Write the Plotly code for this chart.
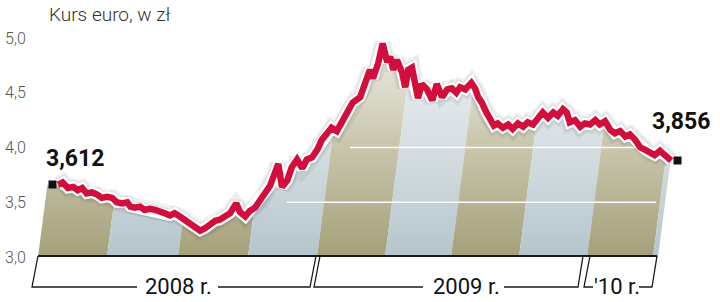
import plotly.graph_objects as go

# ---- data ----
dates = [
    "2008-01-28","2008-02-03","2008-02-10","2008-02-17","2008-02-23","2008-02-29","2008-03-06","2008-03-13","2008-03-20","2008-03-26",
    "2008-04-02","2008-04-09","2008-04-15","2008-04-22","2008-04-29","2008-05-03","2008-05-09","2008-05-16","2008-05-22","2008-05-29",
    "2008-06-05","2008-06-11","2008-06-18","2008-06-25","2008-07-01","2008-07-08","2008-07-15","2008-07-21","2008-07-28","2008-08-04",
    "2008-08-10","2008-08-17","2008-08-24","2008-08-30","2008-09-06","2008-09-13","2008-09-21","2008-09-26","2008-10-03","2008-10-09",
    "2008-10-16","2008-10-23","2008-10-29","2008-11-05","2008-11-12","2008-11-16","2008-11-21","2008-11-28","2008-12-04","2008-12-11",
    "2008-12-18","2008-12-24","2008-12-31",
    "2009-01-07","2009-01-13","2009-01-20","2009-01-26","2009-02-02","2009-02-09","2009-02-15","2009-02-23","2009-03-05","2009-03-11",
    "2009-03-18","2009-03-22","2009-03-29","2009-04-04","2009-04-10","2009-04-14","2009-04-18","2009-04-23","2009-04-30","2009-05-04",
    "2009-05-08","2009-05-13","2009-05-17","2009-05-21","2009-05-26","2009-06-02","2009-06-09","2009-06-15","2009-06-22","2009-06-29",
    "2009-07-05","2009-07-11","2009-07-16","2009-07-23","2009-07-31","2009-08-05","2009-08-09","2009-08-14","2009-08-20","2009-08-25",
    "2009-08-30","2009-09-04","2009-09-11","2009-09-18","2009-09-24","2009-10-01","2009-10-08","2009-10-14","2009-10-21","2009-10-28",
    "2009-11-03","2009-11-10","2009-11-17","2009-11-23","2009-11-30","2009-12-05","2009-12-09","2009-12-16","2009-12-23","2009-12-29",
    "2010-01-05","2010-01-12","2010-01-18","2010-01-25","2010-02-01","2010-02-07","2010-02-14","2010-02-21","2010-02-27","2010-03-06",
    "2010-03-13","2010-03-19","2010-03-26","2010-04-01","2010-04-08","2010-04-15","2010-04-23",
]
values = [
    3.66,3.68,3.63,3.64,3.61,3.63,3.58,3.59,3.57,3.54,
    3.55,3.54,3.50,3.49,3.50,3.46,3.45,3.46,3.43,3.44,
    3.43,3.41,3.40,3.38,3.40,3.37,3.34,3.30,3.27,3.24,
    3.26,3.30,3.33,3.34,3.37,3.40,3.49,3.41,3.37,3.42,
    3.45,3.51,3.58,3.65,3.76,3.85,3.64,3.70,3.82,3.89,
    3.81,3.89,3.91,
    3.98,4.07,4.14,4.18,4.15,4.23,4.32,4.41,4.46,4.56,
    4.71,4.63,4.77,4.95,4.78,4.83,4.71,4.80,4.68,4.55,
    4.71,4.73,4.54,4.45,4.58,4.53,4.43,4.58,4.46,4.53,
    4.54,4.50,4.55,4.53,4.59,4.54,4.46,4.41,4.32,4.25,
    4.20,4.22,4.18,4.21,4.17,4.22,4.19,4.23,4.21,4.27,
    4.32,4.27,4.32,4.29,4.35,4.32,4.23,4.25,4.19,4.22,
    4.21,4.25,4.21,4.24,4.16,4.13,4.15,4.10,4.12,4.07,
    4.00,3.98,3.95,3.93,3.97,3.93,3.88,
]
assert len(dates) == len(values)

title_text = "Kurs euro, w zł"
y_ticks = [3.0, 3.5, 4.0, 4.5, 5.0]
y_ticktext = ["3,0", "3,5", "4,0", "4,5", "5,0"]
first_label = "3,612"
last_label = "3,856"
year_labels = ["2008 r.", "2009 r.", "'10 r."]

# ---- styling / layout constants ----
W, H = 720, 302
X_RANGE = ["2007-11-11 14:00", "2010-06-27"]
Y_RANGE = [2.589, 5.347]
PX_PER_UNIT = H / (Y_RANGE[1] - Y_RANGE[0])
RED = "#d20f3c"
OLIVE_SCALE = [[0, "#a5a07a"], [0.5, "#c8c5ac"], [1, "#efeee7"]]
BLUE_SCALE = [[0, "#b5c5cd"], [0.5, "#d5dee2"], [1, "#f0f3f4"]]
stripe_edges = [38, 107, 178, 248, 317, 385, 451, 519, 587, 653, 658]
SLANT = 0.13
TOP_V = 5.15

def py(p):  # pixel y -> paper
    return 1 - p / H

fig = go.Figure()

# slanted stripes (decoration) on the pixel x-axis (x), drawn below the date overlay (x2)
for i in range(len(stripe_edges) - 1):
    b0, b1 = stripe_edges[i], stripe_edges[i + 1]
    shift = SLANT * (TOP_V - 3.0) * PX_PER_UNIT
    fig.add_trace(go.Scatter(
        x=[b0, b1, b1 + shift, b0 + shift, b0], y=[3.0, 3.0, TOP_V, TOP_V, 3.0],
        xaxis="x", yaxis="y", mode="lines", line=dict(width=0),
        fill="toself",
        fillgradient=dict(type="vertical", start=3.0, stop=5.0,
                          colorscale=OLIVE_SCALE if i % 2 == 0 else BLUE_SCALE),
        hoverinfo="skip", showlegend=False))

# white grid lines inside the fill
for gv, gx in [(3.5, [287, 656]), (4.0, [350, 662])]:
    fig.add_trace(go.Scatter(x=gx, y=[gv, gv], xaxis="x", yaxis="y", mode="lines",
                             line=dict(color="white", width=1.4), hoverinfo="skip", showlegend=False))

# white mask above the line (date axis)
mask_x = [X_RANGE[0], X_RANGE[0]] + dates + [X_RANGE[1], X_RANGE[1]]
mask_y = [Y_RANGE[1], values[0]] + values + [values[-1], Y_RANGE[1]]
fig.add_trace(go.Scatter(x=mask_x, y=mask_y, xaxis="x2", yaxis="y", mode="lines", line=dict(width=0),
                         fill="toself", fillcolor="white", hoverinfo="skip", showlegend=False))

# shadow + halo + red line
for col, wd in [("rgba(0,0,0,0.05)", 18), ("rgba(0,0,0,0.07)", 14), ("white", 11), (RED, 6.5)]:
    fig.add_trace(go.Scatter(x=dates, y=values, xaxis="x2", yaxis="y", mode="lines",
                             line=dict(color=col, width=wd, shape="linear"),
                             hoverinfo="skip", showlegend=False))

annotations = []
# end markers
for d, v, xs in [(dates[0], values[0], -6), (dates[-1], values[-1], 6)]:
    annotations.append(dict(x=d, y=v, xref="x2", yref="y", text=" ", showarrow=False,
                            width=7, height=7, bgcolor="#111111", borderpad=0,
                            xshift=xs, yshift=0, font=dict(size=4)))
annotations.append(dict(x=dates[0], y=values[0], xref="x2", yref="y", text=first_label,
                        showarrow=False, xanchor="left", yanchor="middle", xshift=-14, yshift=26,
                        font=dict(family="Roboto", size=23, color="#111111", weight="bold")))
annotations.append(dict(x=dates[-1], y=values[-1], xref="x2", yref="y", text=last_label,
                        showarrow=False, xanchor="center", yanchor="middle", xshift=10, yshift=39,
                        font=dict(family="Roboto", size=23, color="#111111", weight="bold")))
# title
annotations.append(dict(x=47 / W, y=py(14), xref="paper", yref="paper", text=title_text,
                        showarrow=False, xanchor="left", yanchor="middle",
                        font=dict(family="Roboto", size=19, color="#333333", weight=300)))
# year labels
for txt, cx in zip(year_labels, [178, 466, 617]):
    annotations.append(dict(x=cx, y=py(286), xref="x", yref="paper", text=txt,
                            showarrow=False, xanchor="center", yanchor="middle",
                            font=dict(family="Liberation Sans Narrow, Roboto", size=22, color="#111111")))

shapes = []
LC = "#1a1a1a"
brackets = [
    [(38, 256), (32, 287), (137, 287)], [(218, 287), (310, 287), (316, 256)],
    [(320, 256), (314, 287), (423, 287)], [(504, 287), (578, 287), (583, 256)],
    [(590, 256), (584, 287), (593, 287)], [(639, 287), (652, 287), (657, 256)],
]
for br in brackets:
    path = "M " + " L ".join(f"{x / W},{py(y)}" for x, y in br)
    shapes.append(dict(type="path", path=path, xref="paper", yref="paper",
                       line=dict(color=LC, width=1.3), layer="above"))
# baseline
shapes.append(dict(type="line", x0=38 / W, x1=657 / W, y0=py(256), y1=py(256),
                   xref="paper", yref="paper", line=dict(color=LC, width=1.8), layer="above"))

fig.update_layout(
    width=W, height=H, margin=dict(l=0, r=0, t=0, b=0),
    paper_bgcolor="white", plot_bgcolor="white",
    showlegend=False,
    xaxis=dict(range=[0, W], visible=False, fixedrange=True),
    xaxis2=dict(type="date", range=X_RANGE, overlaying="x", visible=False, fixedrange=True),
    yaxis=dict(range=Y_RANGE, tickvals=y_ticks, ticktext=y_ticktext, showgrid=False,
               zeroline=False, showline=False, ticks="", ticklabelposition="inside",
               ticklabelstandoff=2,
               tickfont=dict(family="Roboto", size=16, color="#555555", weight=300),
               fixedrange=True),
    annotations=annotations, shapes=shapes,
)

fig.write_html("out.html")
